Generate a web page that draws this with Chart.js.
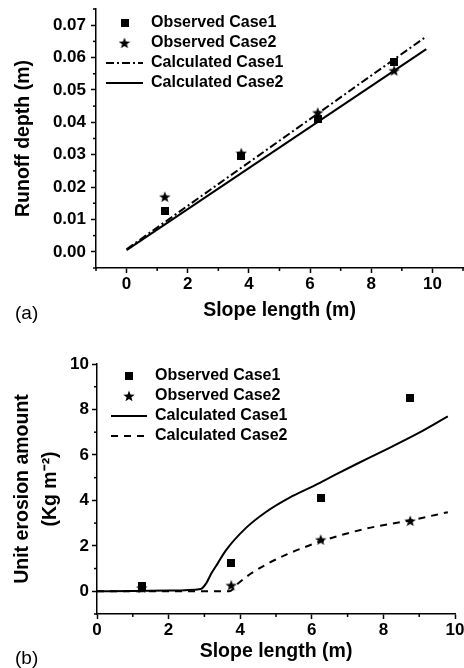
<!DOCTYPE html>
<html>
<head>
<meta charset="utf-8">
<script src="https://cdn.jsdelivr.net/npm/chart.js@4"></script>
<style>
  body { margin: 0; background: #fff; }
  #wrap { position: relative; width: 464px; height: 668px; font-family: "Liberation Sans", Arial, sans-serif; }
  canvas { position: absolute; left: 0; }
  .tag { position: absolute; font-size: 19px; line-height: 22px; color: #000; }
</style>
</head>
<body>
<div id="wrap">
  <canvas id="runoffChart" width="464" height="330" style="top:0"></canvas>
  <canvas id="erosionChart" width="464" height="338" style="top:330px"></canvas>
  <div class="tag" style="left:15px; top:302px">(a)</div>
  <div class="tag" style="left:15px; top:647px">(b)</div>
</div>
<script>
// Slope positions of the observations (m)
const obsX = [1.25, 3.75, 6.25, 8.75];

// (a) Runoff depth (m)
const runoffObs1 = [0.0125, 0.0297, 0.041, 0.0585];
const runoffObs2 = [0.017, 0.0305, 0.043, 0.056];
const runoffCalcX = [0, 9.8];
const runoffCalc1 = [0.0008, 0.0665];
const runoffCalc2 = [0.0005, 0.0626];

// (b) Unit erosion amount (Kg m-2)
const erosionObs1 = [0.25, 1.25, 4.1, 8.5];
const erosionObs2 = [0.15, 0.26, 2.27, 3.1];
const erosionCalc1X = [0, 1, 2, 2.9, 3.05, 3.2, 3.38, 3.6, 4.17, 4.73, 5.38, 6.03, 6.5, 7.25, 8, 9, 9.8];
const erosionCalc1 = [0, 0.01, 0.03, 0.1, 0.35, 0.8, 1.25, 1.8, 2.8, 3.5, 4.12, 4.62, 5.0, 5.6, 6.18, 6.98, 7.7];
const erosionCalc2X = [0, 1, 2, 3, 3.7, 3.94, 4.3, 4.75, 5.3, 5.85, 6.25, 7.5, 8.75, 9.8];
const erosionCalc2 = [0, 0, 0, 0, 0, 0.34, 0.78, 1.2, 1.62, 1.97, 2.2, 2.75, 3.12, 3.48];

// Tick values
const runoffXTicks = [0, 2, 4, 6, 8, 10];
const runoffXMinor = [-1, 1, 3, 5, 7, 9, 11];
const runoffYTicks = [0, 0.01, 0.02, 0.03, 0.04, 0.05, 0.06, 0.07];
const runoffYMinor = [-0.005, 0.005, 0.015, 0.025, 0.035, 0.045, 0.055, 0.065, 0.075];
const erosionXTicks = [0, 2, 4, 6, 8, 10];
const erosionXMinor = [1, 3, 5, 7, 9];
const erosionYTicks = [0, 2, 4, 6, 8, 10];
const erosionYMinor = [-1, 1, 3, 5, 7, 9];

const seriesNames = ["Observed Case1", "Observed Case2", "Calculated Case1", "Calculated Case2"];

Chart.defaults.font.family = '"Liberation Sans", Arial, sans-serif';
Chart.defaults.color = '#000';

const pts = (xs, ys) => xs.map((x, i) => ({ x: x, y: ys[i] }));

// marker images
function squareMarker(size) {
    const c = document.createElement('canvas');
    c.width = c.height = size;
    const g = c.getContext('2d');
    g.fillStyle = '#000';
    g.fillRect(0, 0, size, size);
    return c;
}
function starMarker(size) {
    const c = document.createElement('canvas');
    c.width = c.height = size;
    const g = c.getContext('2d');
    const r = size / 2, ri = r * 0.42;
    g.fillStyle = '#000';
    g.beginPath();
    for (let i = 0; i < 10; i++) {
        const rad = i % 2 ? ri : r;
        const a = -Math.PI / 2 + i * Math.PI / 5;
        g.lineTo(r + rad * Math.cos(a), r + 0.5 + rad * Math.sin(a));
    }
    g.closePath();
    g.fill();
    return c;
}
const squareImg = squareMarker(8);
const starImg = starMarker(12);

// small unlabeled ticks between the labeled ones
function minorTicks(xMinor, yMinor) {
    return {
        id: 'minorTicks',
        afterDraw(chart) {
            const ctx = chart.ctx, xs = chart.scales.x, ys = chart.scales.y;
            ctx.save();
            ctx.strokeStyle = '#000';
            ctx.lineWidth = 1.5;
            xMinor.forEach(v => {
                const p = xs.getPixelForValue(v);
                ctx.beginPath(); ctx.moveTo(p, xs.top); ctx.lineTo(p, xs.top + 3); ctx.stroke();
            });
            yMinor.forEach(v => {
                const p = ys.getPixelForValue(v);
                ctx.beginPath(); ctx.moveTo(ys.right, p); ctx.lineTo(ys.right - 3, p); ctx.stroke();
            });
            ctx.restore();
        }
    };
}

// move the legend block inside the plot area
function legendShift(dx, dy) {
    return {
        id: 'legendShift',
        afterLayout(chart) {
            chart.legend.left = chart.chartArea.left + dx;
            chart.legend.top = chart.chartArea.top + dy;
        }
    };
}

function axis(o) {
    return {
        type: 'linear',
        position: o.position,
        min: o.min,
        max: o.max,
        border: { display: true, color: '#000', width: 1.5 },
        grid: { drawOnChartArea: false, drawTicks: true, tickLength: 5, tickColor: '#000', tickWidth: 1.5 },
        ticks: {
            color: '#000',
            padding: o.tickPad,
            font: { size: 17, weight: 'bold' },
            callback: o.fmt || (v => v)
        },
        title: {
            display: true,
            text: o.title,
            color: '#000',
            font: { size: 19.5, weight: 'bold', lineHeight: o.titleLH || 1.2 },
            padding: o.titlePad
        },
        afterBuildTicks: s => { s.ticks = o.ticks.map(v => ({ value: v })); },
        afterFit: s => {
            if (o.position === 'bottom') s.height = o.size; else s.width = o.size;
            // plot area is fixed by layout.padding, not by label overhang
            s.paddingTop = s.paddingBottom = s.paddingLeft = s.paddingRight = 0;
        }
    };
}

function legendOpts(boxW) {
    return {
        display: true,
        position: 'chartArea',
        align: 'start',
        labels: {
            usePointStyle: true,
            pointStyleWidth: boxW,
            padding: 4,
            color: '#000',
            font: { size: 16, weight: 'bold' },
            generateLabels(chart) {
                const items = Chart.defaults.plugins.legend.labels.generateLabels(chart);
                items.forEach(it => {
                    const ds = chart.data.datasets[it.datasetIndex];
                    it.pointStyle = ds.pointStyle;
                    it.lineDash = ds.borderDash || [];
                    it.lineWidth = ds.showLine ? 2 : 0;
                    it.strokeStyle = '#000';
                    it.fillStyle = '#000';
                    it.fontColor = '#000';
                });
                return items;
            }
        }
    };
}

function obsSet(label, img, data) {
    return { label: label, data: data, pointStyle: img, pointRadius: 6, showLine: false,
             backgroundColor: '#000', borderColor: '#000' };
}
function calcSet(label, dash, data, smooth) {
    return { label: label, data: data, showLine: true, pointRadius: 0, pointStyle: 'line',
             borderColor: '#000', backgroundColor: '#000', borderWidth: 2, borderDash: dash,
             cubicInterpolationMode: smooth ? 'monotone' : 'default', fill: false };
}

// ==========================
// (a) Runoff depth
// ==========================
new Chart(document.getElementById('runoffChart'), {
    type: 'scatter',
    data: {
        datasets: [
            obsSet(seriesNames[0], squareImg, pts(obsX, runoffObs1)),
            obsSet(seriesNames[1], starImg, pts(obsX, runoffObs2)),
            calcSet(seriesNames[2], [8, 3, 2, 3], pts(runoffCalcX, runoffCalc1), false),
            calcSet(seriesNames[3], [], pts(runoffCalcX, runoffCalc2), false)
        ]
    },
    options: {
        responsive: false,
        animation: false,
        devicePixelRatio: 1,
        layout: { autoPadding: false, padding: { left: 0, top: 9, right: 1, bottom: 0 } },
        plugins: { legend: legendOpts(37), tooltip: { enabled: false } },
        scales: {
            x: axis({ position: 'bottom', min: -1, max: 11, ticks: runoffXTicks, size: 62, tickPad: 1,
                      title: 'Slope length (m)', titlePad: { top: 0, bottom: 8 } }),
            y: axis({ position: 'left', min: -0.005, max: 0.075, ticks: runoffYTicks, size: 96, tickPad: 5,
                      fmt: v => v.toFixed(2), title: 'Runoff depth (m)', titlePad: { top: 12, bottom: 0 } })
        }
    },
    plugins: [minorTicks(runoffXMinor, runoffYMinor), legendShift(6, 2)]
});

// ==========================
// (b) Unit erosion amount
// ==========================
new Chart(document.getElementById('erosionChart'), {
    type: 'scatter',
    data: {
        datasets: [
            obsSet(seriesNames[0], squareImg, pts(obsX, erosionObs1)),
            obsSet(seriesNames[1], starImg, pts(obsX, erosionObs2)),
            calcSet(seriesNames[2], [], pts(erosionCalc1X, erosionCalc1), true),
            calcSet(seriesNames[3], [7, 6], pts(erosionCalc2X, erosionCalc2), true)
        ]
    },
    options: {
        responsive: false,
        animation: false,
        devicePixelRatio: 1,
        layout: { autoPadding: false, padding: { left: 0, top: 34, right: 9, bottom: 0 } },
        plugins: { legend: legendOpts(36), tooltip: { enabled: false } },
        scales: {
            x: axis({ position: 'bottom', min: 0, max: 10, ticks: erosionXTicks, size: 54, tickPad: 1,
                      title: 'Slope length (m)', titlePad: { top: 0, bottom: 5 } }),
            y: axis({ position: 'left', min: -1, max: 10, ticks: erosionYTicks, size: 97, tickPad: 3,
                      title: ['Unit erosion amount', '(Kg m\u207B\u00B2)'], titleLH: 1.436,
                      titlePad: { top: 9, bottom: 0 } })
        }
    },
    plugins: [minorTicks(erosionXMinor, erosionYMinor), legendShift(10, 0)]
});
</script>
</body>
</html>
